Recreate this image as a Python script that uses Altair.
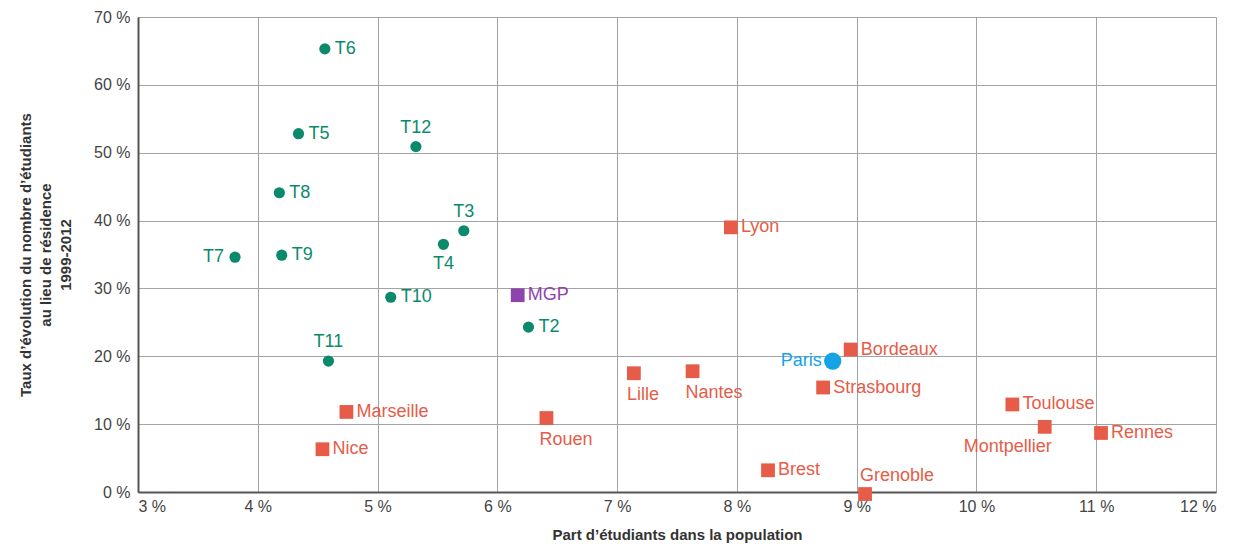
import altair as alt
import pandas as pd

names = ["T6", "T5", "T12", "T8", "T3", "T4", "T7", "T9", "T10", "MGP", "T2", "T11",
         "Marseille", "Nice", "Rouen", "Lille", "Nantes", "Lyon", "Brest", "Paris",
         "Bordeaux", "Strasbourg", "Grenoble", "Toulouse", "Montpellier", "Rennes"]
part = [4.56, 4.34, 5.32, 4.18, 5.72, 5.55, 3.81, 4.20, 5.11, 6.17, 6.26, 4.59,
        4.74, 4.54, 6.41, 7.14, 7.63, 7.95, 8.26, 8.80,
        8.95, 8.72, 9.07, 10.30, 10.57, 11.04]
taux = [65.3, 52.8, 50.9, 44.1, 38.5, 36.5, 34.6, 34.9, 28.7, 29.0, 24.3, 19.3,
        11.8, 6.3, 10.9, 17.5, 17.8, 39.0, 3.2, 19.3,
        21.0, 15.4, -0.3, 12.9, 9.6, 8.7]
groupe = ["T"] * 9 + ["MGP"] + ["T"] * 2 + ["Ville"] * 7 + ["Paris"] + ["Ville"] * 6
place = ["r", "r", "a", "r", "a", "b", "l", "r", "r", "r", "r", "a",
         "r", "r", "bl", "bl", "bl", "r", "r", "l",
         "r", "r", "al", "r", "br", "r"]

df = pd.DataFrame({"nom": names, "part": part, "taux": taux, "groupe": groupe, "place": place})

grp_domain = ["T", "Ville", "MGP", "Paris"]
mark_range = ["#0b8a6b", "#e65c48", "#8e44ad", "#14a3e6"]
text_range = ["#138c72", "#e8605a", "#8a55b0", "#2aa3e3"]

FONT = "Liberation Sans"

x = alt.X("part:Q", scale=alt.Scale(domain=[3, 12], nice=False),
          axis=alt.Axis(values=list(range(3, 13)), labelExpr="datum.value + ' %'",
                        title="Part d\u2019étudiants dans la population",
                        grid=True, gridColor="#a3a3a3", gridWidth=1,
                        domainColor="#555555", domainWidth=2, ticks=False,
                        labelFontSize=16, labelColor="#444444", labelPadding=6,
                        titleFontSize=15, titleFontWeight="bold", titleColor="#333333",
                        titlePadding=13, labelFont=FONT, titleFont=FONT))
y = alt.Y("taux:Q", scale=alt.Scale(domain=[0, 70], nice=False),
          axis=alt.Axis(values=list(range(0, 71, 10)), labelExpr="datum.value + ' %'",
                        title=["Taux d\u2019évolution du nombre d\u2019étudiants",
                               "au lieu de résidence", "1999-2012"],
                        grid=True, gridColor="#a3a3a3", gridWidth=1,
                        domainColor="#555555", domainWidth=2, ticks=False,
                        labelFontSize=16, labelColor="#444444", labelPadding=8,
                        titleFontSize=15, titleFontWeight="bold", titleColor="#333333",
                        titlePadding=20, titleLineHeight=20, labelFont=FONT, titleFont=FONT))

base = alt.Chart(df)

color_mark = alt.Color("groupe:N", scale=alt.Scale(domain=grp_domain, range=mark_range), legend=None)
color_text = alt.Color("groupe:N", scale=alt.Scale(domain=grp_domain, range=text_range), legend=None)

circles = base.transform_filter("datum.groupe == 'T'").mark_circle(size=125, opacity=1).encode(
    x=x, y=y, color=color_mark)
paris = base.transform_filter("datum.groupe == 'Paris'").mark_circle(size=300, opacity=1).encode(
    x=x, y=y, color=color_mark)
squares = base.transform_filter("datum.groupe == 'Ville' || datum.groupe == 'MGP'").mark_square(
    size=190, opacity=1).encode(x=x, y=y, color=color_mark)

def labels(code, **kw):
    return base.transform_filter(f"datum.place == '{code}'").mark_text(
        font=FONT, fontSize=18, **kw).encode(x=x, y=y, text="nom:N", color=color_text)

layers = [
    labels("r", align="left", baseline="middle", dx=10),
    labels("l", align="right", baseline="middle", dx=-11),
    labels("a", align="center", baseline="middle", dy=-19),
    labels("al", align="left", baseline="middle", dx=-5, dy=-18),
    labels("b", align="center", baseline="middle", dy=20),
    labels("bl", align="left", baseline="middle", dx=-7, dy=22),
    labels("br", align="right", baseline="middle", dx=7, dy=20),
]

chart = alt.layer(circles, paris, squares, *layers).properties(
    width=1078, height=475,
    autosize=alt.AutoSizeParams(type="none"),
    padding={"left": 130, "top": 9, "right": 9, "bottom": 52},
).configure_view(stroke="#a3a3a3", strokeWidth=1).configure(background="white")

chart.save("out.html", embed_options={"renderer": "svg", "actions": False})
